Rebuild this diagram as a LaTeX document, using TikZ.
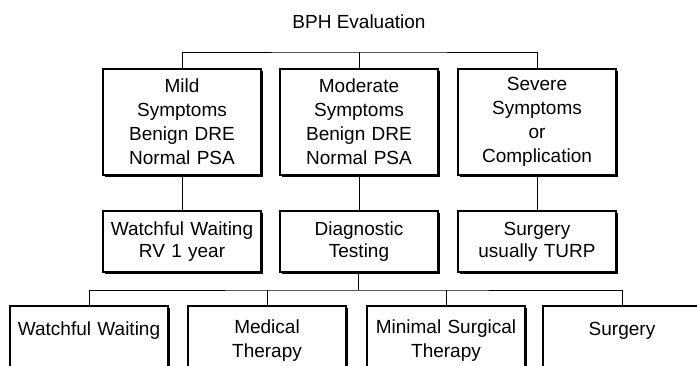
\documentclass[tikz,border=0pt]{standalone}
\usepackage{fontspec}
\setmainfont{Liberation Sans}
\usetikzlibrary{shadows}

\begin{document}
\begin{tikzpicture}[x=1pt,y=-1pt,
  every node/.style={font=\fontsize{19}{24}\selectfont},
  stage/.style={draw=black,line width=1.1pt,fill=white,align=center,
    text width=150pt,inner xsep=4pt,
    drop shadow={shadow xshift=2.4pt,shadow yshift=-2.4pt,fill=black,opacity=1}},
  symptom/.style={stage,minimum height=106pt},
  action/.style={stage,minimum height=61pt,font=\fontsize{19}{22}\selectfont},
  therapy/.style={stage,minimum height=70pt},
  link/.style={draw=black,line width=0.9pt}]
\useasboundingbox (0,0) rectangle (697,366);
\clip (0,0) rectangle (697,366);
% title
\node (title) at (359,22) {BPH Evaluation};
% symptoms
\node[symptom] (mild) at (182,122) {Mild\\Symptoms\\Benign DRE\\Normal PSA};
\node[symptom] (moderate) at (359,122) {Moderate\\Symptoms\\Benign DRE\\Normal PSA};
\node[symptom] (severe) at (537,122) {Severe\\Symptoms\\or\\Complication};
% first step
\node[action] (waitrv) at (182,241.5) {Watchful Waiting\\RV 1 year};
\node[action] (diag) at (359,241.5) {Diagnostic\\Testing};
\node[action] (turp) at (537,241.5) {Surgery\\usually TURP};
% treatment options
\node[therapy] (waiting) at (89,341) {Watchful Waiting\\\mbox{}};
\node[therapy] (medical) at (267,341) {Medical\\Therapy};
\node[therapy] (minimal) at (446,341) {Minimal Surgical\\Therapy};
\node[therapy] (surgery) at (622,341) {Surgery\\\mbox{}};
% connectors
\coordinate (topbar) at (359,52);
\coordinate (lowbar) at (358,290);
\draw[link] (mild.north) |- (topbar) -| (severe.north);
\draw[link] (topbar) -- (moderate.north);
\draw[link] (mild.south) -- (waitrv.north);
\draw[link] (moderate.south) -- (diag.north);
\draw[link] (severe.south) -- (turp.north);
\draw[link] (diag.south -| lowbar) -- (lowbar);
\draw[link] (waiting.north) |- (lowbar) -| (surgery.north);
\draw[link] (medical.north) -- (medical.north |- lowbar);
\draw[link] (minimal.north) -- (minimal.north |- lowbar);
\end{tikzpicture}
\end{document}
